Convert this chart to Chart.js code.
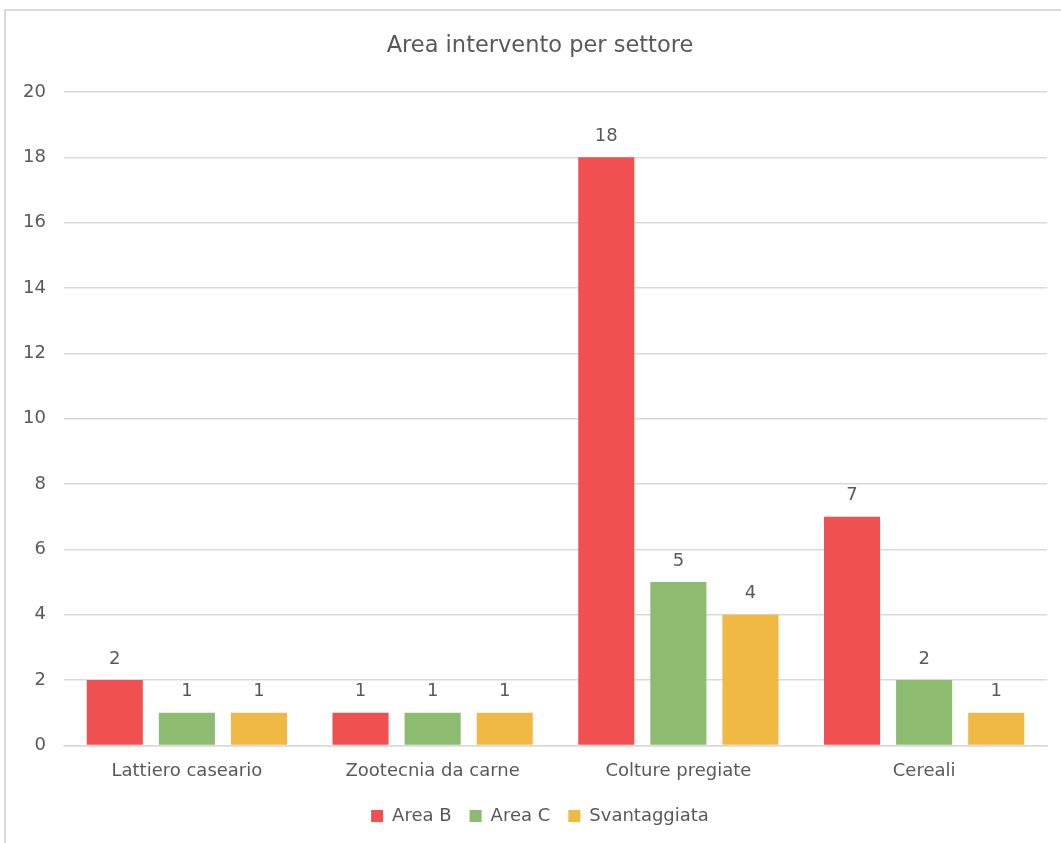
<!DOCTYPE html>
<html>
<head>
<meta charset="utf-8">
<script src="https://cdn.jsdelivr.net/npm/chart.js@4/dist/chart.umd.min.js"></script>
<style>
  html, body { margin: 0; padding: 0; background: #fff; overflow: hidden; }
  #frame {
    position: absolute; left: 4px; top: 9px; width: 1100px; height: 900px;
    border: 2px solid #d9d9d9;
  }
  #wrap { position: absolute; left: 0; top: 0; width: 1080px; height: 843px; }
</style>
</head>
<body>
<div id="frame"></div>
<div id="wrap"><canvas id="settoriChart"></canvas></div>
<script>
const categories = ['Lattiero caseario', 'Zootecnia da carne', 'Colture pregiate', 'Cereali'];
const areaB = [2, 1, 18, 7];
const areaC = [1, 1, 5, 2];
const svantaggiata = [1, 1, 4, 1];
const yTicks = [0, 2, 4, 6, 8, 10, 12, 14, 16, 18, 20];

const textColor = '#595959';
const fontFamily = 'DejaVu Sans';

// write each bar's value just above it
const valueLabels = {
  id: 'valueLabels',
  afterDatasetsDraw(chart) {
    const ctx = chart.ctx;
    ctx.save();
    ctx.fillStyle = textColor;
    ctx.font = '18px "' + fontFamily + '"';
    ctx.textAlign = 'center';
    ctx.textBaseline = 'bottom';
    chart.data.datasets.forEach((ds, i) => {
      chart.getDatasetMeta(i).data.forEach((bar, j) => {
        ctx.fillText(ds.data[j], bar.x, bar.y - 12);
      });
    });
    ctx.restore();
  }
};

Chart.defaults.font.family = fontFamily;

const ctx = document.getElementById('settoriChart').getContext('2d');
new Chart(ctx, {
  type: 'bar',
  data: {
    labels: categories,
    datasets: [
      { label: 'Area B', data: areaB, backgroundColor: '#F15050' },
      { label: 'Area C', data: areaC, backgroundColor: '#8DBB6F' },
      { label: 'Svantaggiata', data: svantaggiata, backgroundColor: '#F0B944' }
    ]
  },
  options: {
    responsive: true,
    maintainAspectRatio: false,
    animation: false,
    datasets: {
      bar: { barPercentage: 0.778, categoryPercentage: 0.88 }
    },
    layout: { padding: { left: 0, right: 0, top: 0, bottom: 8 } },
    plugins: {
      title: {
        display: true,
        text: 'Area intervento per settore',
        color: textColor,
        font: { size: 22.5, weight: 'normal' },
        padding: { top: 32.5, bottom: 32.5 }
      },
      legend: {
        position: 'bottom',
        labels: {
          color: textColor,
          font: { size: 18 },
          boxWidth: 12,
          boxHeight: 12,
          padding: 18
        }
      },
      tooltip: { enabled: false }
    },
    scales: {
      x: {
        grid: { display: false },
        border: { display: true, color: '#d9d9d9', width: 1.5 },
        ticks: { color: textColor, font: { size: 18 }, padding: 7 }
      },
      y: {
        min: 0,
        max: 20,
        afterBuildTicks(axis) { axis.ticks = yTicks.map(v => ({ value: v })); },
        afterFit(axis) { axis.width = 64; },
        grid: { color: '#d9d9d9', lineWidth: 1.5, drawTicks: false },
        border: { display: false },
        ticks: { color: textColor, font: { size: 18 }, padding: 18 }
      },
      // empty right margin so the plot ends short of the canvas edge
      rightGap: {
        type: 'linear',
        position: 'right',
        grid: { display: false, drawTicks: false },
        border: { display: false },
        ticks: { display: false },
        afterFit(axis) { axis.width = 33; }
      }
    }
  },
  plugins: [valueLabels]
});
</script>
</body>
</html>
